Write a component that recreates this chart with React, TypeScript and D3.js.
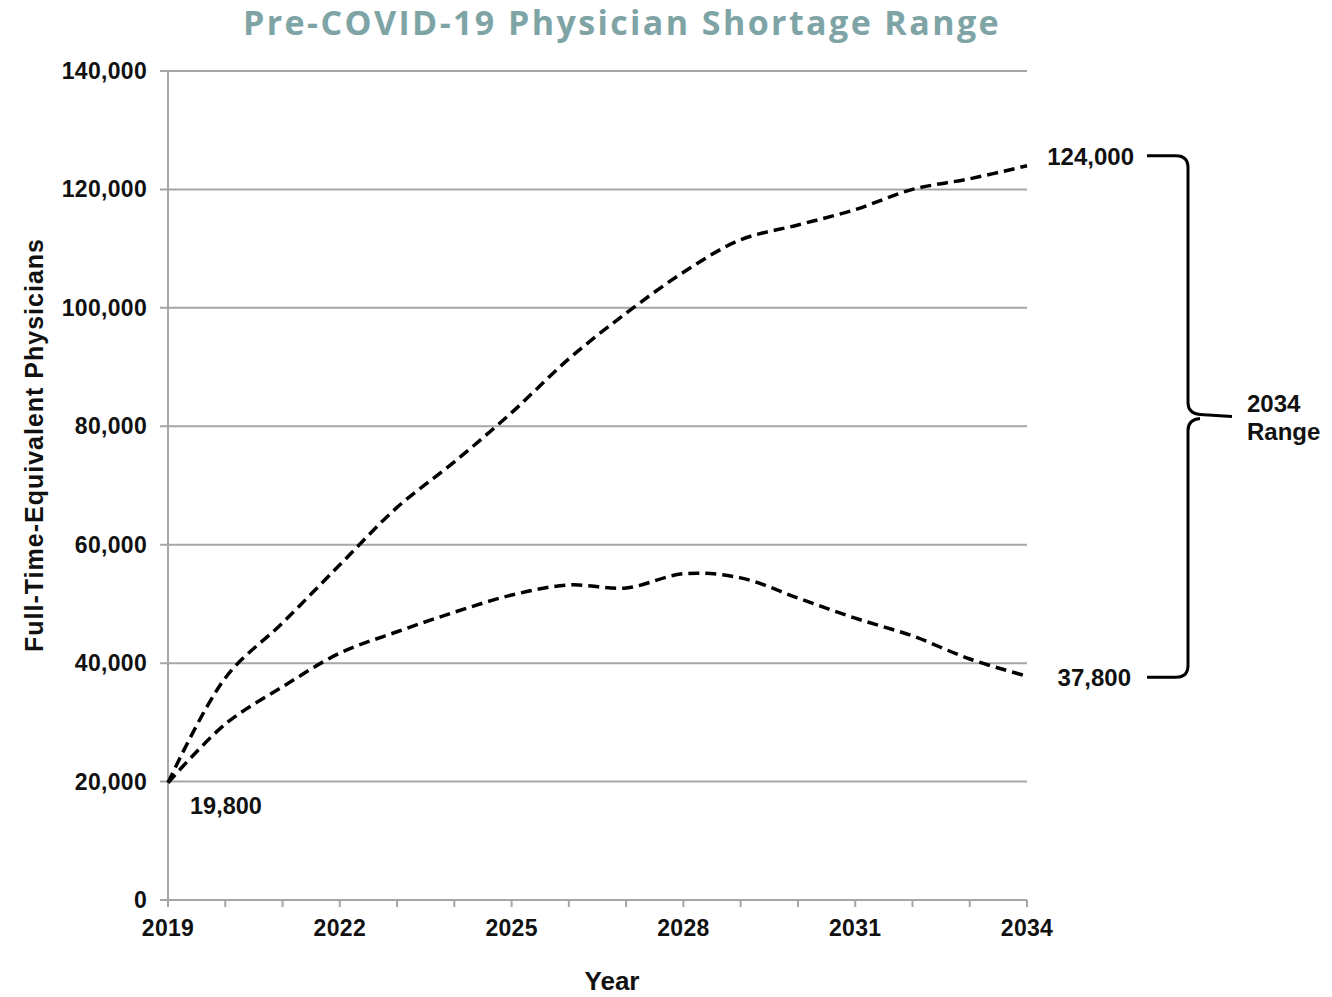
import * as d3 from "d3";

const years = [2019, 2020, 2021, 2022, 2023, 2024, 2025, 2026, 2027, 2028, 2029, 2030, 2031, 2032, 2033, 2034];
const highShortage = [19800, 37500, 46800, 56600, 66300, 74000, 82300, 91400, 99100, 106000, 111500, 114000, 116600, 120000, 121800, 124000];
const lowShortage = [19800, 29700, 36000, 41700, 45300, 48600, 51500, 53200, 52700, 55100, 54400, 51000, 47600, 44600, 40700, 37800];
const yTicks = [0, 20000, 40000, 60000, 80000, 100000, 120000, 140000];
const xLabelYears = [2019, 2022, 2025, 2028, 2031, 2034];

const W = 1332;
const H = 997;
const m = { top: 71, right: 305, bottom: 97, left: 168 };

const font = "'Liberation Sans', Arial, sans-serif";
const grid = "#a6a6a6";

export default function App() {
  const x = d3.scaleLinear().domain([2019, 2034]).range([m.left, W - m.right]);
  const y = d3.scaleLinear().domain([0, 140000]).range([H - m.bottom, m.top]);
  const fmt = d3.format(",");

  const line = d3
    .line<number>()
    .x((_d, i) => x(years[i]))
    .y(d => y(d))
    .curve(d3.curveCatmullRom.alpha(0.5));

  const x0 = x(2034);
  const yHi = y(highShortage[highShortage.length - 1]);
  const yLo = y(lowShortage[lowShortage.length - 1]);
  const top = yHi - 10;
  const bot = yLo + 1;
  const mid = (top + bot) / 2;
  const bx = x0 + 161; // brace spine
  const s0 = x0 + 120; // brace ends
  const tip = bx + 44;
  const brace = `M${s0},${top} L${bx - 12},${top} Q${bx},${top} ${bx},${top + 12} L${bx},${mid - 14} Q${bx},${mid - 3} ${bx + 12},${mid - 2} L${tip},${mid} M${bx + 12},${mid + 2} Q${bx},${mid + 3} ${bx},${mid + 14} L${bx},${bot - 12} Q${bx},${bot} ${bx - 12},${bot} L${s0},${bot}`;

  const lab = { fontFamily: font, fontWeight: 700, fill: "#111" };

  return (
    <svg width={W} height={H} style={{ position: "absolute", left: 0, top: 0, background: "#fff" }}>
      <text x={622} y={35} textAnchor="middle" fontFamily="'Open Sans', Lato, sans-serif" fontWeight={700} fontSize={34} letterSpacing={2.4} fill="#7ea4a5">
        Pre-COVID-19 Physician Shortage Range
      </text>

      {yTicks.map(t => (
        <g key={t}>
          <line x1={m.left - 8} x2={x0} y1={y(t)} y2={y(t)} stroke={grid} strokeWidth={2} />
          <text x={m.left - 21} y={y(t) + 8} textAnchor="end" fontSize={23} letterSpacing={0.3} {...lab}>
            {fmt(t)}
          </text>
        </g>
      ))}
      <line x1={m.left} x2={m.left} y1={y(140000)} y2={y(0)} stroke={grid} strokeWidth={2} />
      {years.map(yr => (
        <line key={yr} x1={x(yr)} x2={x(yr)} y1={y(0)} y2={y(0) + 7} stroke={grid} strokeWidth={2} />
      ))}
      {xLabelYears.map(yr => (
        <text key={yr} x={x(yr)} y={y(0) + 36} textAnchor="middle" fontSize={23} letterSpacing={0.3} {...lab}>
          {yr}
        </text>
      ))}

      <text x={612} y={990} textAnchor="middle" fontSize={26} {...lab}>
        Year
      </text>
      <text
        transform="translate(43, 445) rotate(-90)"
        textAnchor="middle"
        fontSize={25}
        letterSpacing={1}
        {...lab}
      >
        Full-Time-Equivalent Physicians
      </text>

      <path d={line(highShortage) ?? ""} fill="none" stroke="#000" strokeWidth={3.5} strokeDasharray="11,6" />
      <path d={line(lowShortage) ?? ""} fill="none" stroke="#000" strokeWidth={3.5} strokeDasharray="11,6" />

      <text x={x(2019) + 22} y={y(lowShortage[0]) + 31} fontSize={23.5} {...lab}>
        {fmt(lowShortage[0])}
      </text>
      <text x={x0 + 107} y={top + 9} textAnchor="end" fontSize={24} {...lab}>
        {fmt(highShortage[highShortage.length - 1])}
      </text>
      <text x={x0 + 104} y={bot + 9} textAnchor="end" fontSize={24} {...lab}>
        {fmt(lowShortage[lowShortage.length - 1])}
      </text>
      <path d={brace} fill="none" stroke="#000" strokeWidth={3} />
      <text x={tip + 15} y={mid - 4} fontSize={24} {...lab}>
        2034
      </text>
      <text x={tip + 15} y={mid + 24} fontSize={24} {...lab}>
        Range
      </text>
    </svg>
  );
}
